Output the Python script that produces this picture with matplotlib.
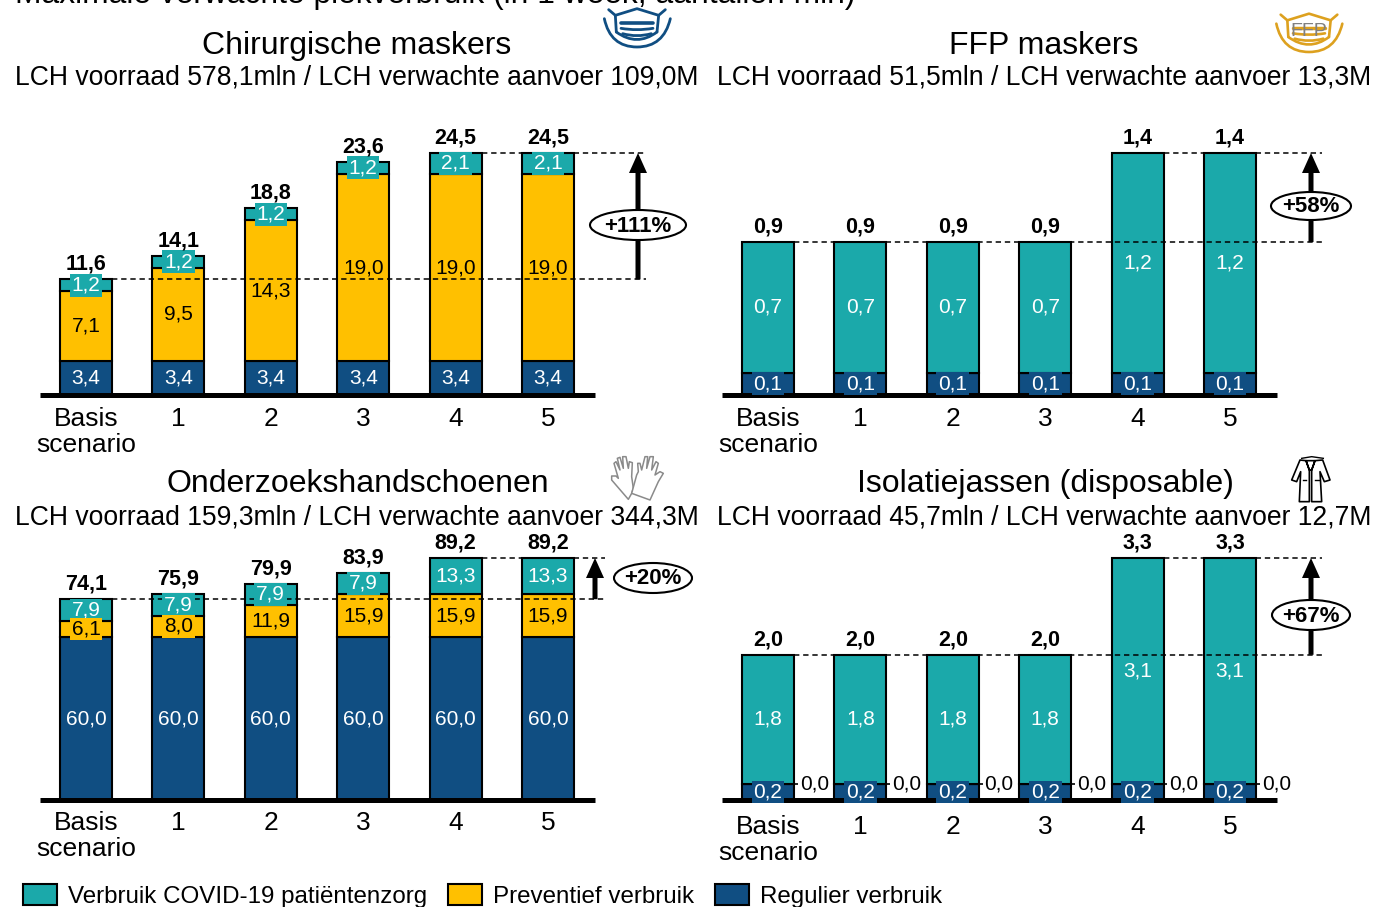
import numpy as np
import matplotlib
matplotlib.use('Agg')
import matplotlib.pyplot as plt
from matplotlib.patches import Ellipse, Patch, Polygon
from matplotlib.path import Path
from matplotlib.patches import PathPatch

plt.rcParams['font.family'] = ['Liberation Sans', 'DejaVu Sans']

W, H = 1375, 907
PX = 72 / 100  # points per pixel

categories = ['Basis\nscenario', '1', '2', '3', '4', '5']
series_names = ['Verbruik COVID-19 patiëntenzorg', 'Preventief verbruik', 'Regulier verbruik']
TEAL, YELLOW, NAVY = '#1BA9AA', '#FFC000', '#104E82'

chir_reg = [3.4, 3.4, 3.4, 3.4, 3.4, 3.4]
chir_prev = [7.1, 9.5, 14.3, 19.0, 19.0, 19.0]
chir_cov = [1.2, 1.2, 1.2, 1.2, 2.1, 2.1]
chir_total = [11.6, 14.1, 18.8, 23.6, 24.5, 24.5]

ffp_reg = [0.13, 0.13, 0.13, 0.13, 0.13, 0.13]
ffp_prev = [0.0, 0.0, 0.0, 0.0, 0.0, 0.0]
ffp_cov = [0.755, 0.755, 0.755, 0.755, 1.27, 1.27]
ffp_reg_txt = ['0,1'] * 6
ffp_cov_txt = ['0,7', '0,7', '0,7', '0,7', '1,2', '1,2']
ffp_total = [0.9, 0.9, 0.9, 0.9, 1.4, 1.4]

glove_reg = [60.0, 60.0, 60.0, 60.0, 60.0, 60.0]
glove_prev = [6.1, 8.0, 11.9, 15.9, 15.9, 15.9]
glove_cov = [7.9, 7.9, 7.9, 7.9, 13.3, 13.3]
glove_total = [74.1, 75.9, 79.9, 83.9, 89.2, 89.2]

gown_reg = [0.22, 0.22, 0.22, 0.22, 0.22, 0.22]
gown_prev = [0.0, 0.0, 0.0, 0.0, 0.0, 0.0]
gown_cov = [1.76, 1.76, 1.76, 1.76, 3.08, 3.08]
gown_reg_txt = ['0,2'] * 6
gown_cov_txt = ['1,8', '1,8', '1,8', '1,8', '3,1', '3,1']
gown_total = [2.0, 2.0, 2.0, 2.0, 3.3, 3.3]


def nl(v):
    return f'{v:.1f}'.replace('.', ',')


fig = plt.figure(figsize=(W / 100, H / 100), dpi=100, facecolor='white')

# overlay in pixel units for headings and pictograms
ov = fig.add_axes([0, 0, 1, 1], zorder=5)
ov.set_xlim(0, W)
ov.set_ylim(H, 0)
ov.axis('off')
ov.patch.set_alpha(0)

STEP = 92.4
BW = 52 / STEP


def panel(x0, base_px, reg, prev, cov, total, reg_txt=None, cov_txt=None,
          arrow_x=None, pct='', ell=(0, 0, 0, 0), dash_end=0, tick_pad=0, zero_labels=False):
    """x0: pixel x of first bar centre; base_px: pixel y of baseline."""
    reg, prev, cov = map(np.array, (reg, prev, cov))
    tops = reg + prev + cov
    peak = tops.max()
    unit_px = 242 / peak
    left, right, h_px = x0 - 46, x0 + 509, 300
    ax = fig.add_axes([left / W, 1 - base_px / H, (right - left) / W, h_px / H], zorder=2)
    ax.patch.set_alpha(0)
    ax.set_xlim((left - x0) / STEP, (right - x0) / STEP)
    ax.set_ylim(0, peak * h_px / 242)
    x = np.arange(6)
    kw = dict(width=BW, edgecolor='black', linewidth=1.5)
    ax.bar(x, reg, color=NAVY, zorder=2, **kw)
    ax.bar(x, prev, bottom=reg, color=YELLOW, zorder=2, **kw)
    ax.bar(x, cov, bottom=reg + prev, color=TEAL, zorder=2, **kw)

    for s in ('top', 'left', 'right'):
        ax.spines[s].set_visible(False)
    ax.spines['bottom'].set_linewidth(5 * PX)
    ax.spines['bottom'].set_capstyle('butt')
    ax.spines['bottom'].set_zorder(3)
    ax.set_yticks([])
    ax.set_xticks(x, categories, fontsize=19, linespacing=1.1)
    ax.tick_params(axis='x', length=0, pad=tick_pad)

    def seg(xv, yv, s, val, fc, tc):
        # only a label that does not fit its segment gets a patch in the segment colour
        bb = dict(boxstyle='square,pad=0.09', fc=fc, ec='none') if val * unit_px < 22.5 else None
        ax.text(xv, yv, s, color=tc, ha='center', va='center', fontsize=15, bbox=bb, zorder=5)

    for i in x:
        ax.annotate(str(total[i]).replace('.', ','), (i, tops[i]), xytext=(0, 15 * PX),
                    textcoords='offset points', ha='center', va='center',
                    fontsize=15.5, fontweight='bold', zorder=6)
        rt = reg_txt[i] if reg_txt else nl(reg[i])
        ct = cov_txt[i] if cov_txt else nl(cov[i])
        seg(i, reg[i] / 2, rt, reg[i], NAVY, 'white')
        seg(i, reg[i] + prev[i] + cov[i] / 2, ct, cov[i], TEAL, 'white')
        if prev[i] > 0:
            seg(i, reg[i] + prev[i] / 2, nl(prev[i]), prev[i], YELLOW, 'black')
        elif zero_labels:
            ax.plot([i + BW / 2, i + 0.33], [reg[i], reg[i]], color='black', lw=1.2, zorder=3,
                    clip_on=False)
            ax.annotate('0,0', (i + 0.5, reg[i]), ha='center', va='center', fontsize=15,
                        bbox=dict(boxstyle='square,pad=0.09', fc='white', ec='none'),
                        zorder=4, annotation_clip=False)

    # reference lines
    xend = (dash_end - x0) / STEP
    first_top = int(np.argmax(tops))
    dash = dict(color='black', lw=1.1, ls=(0, (3.5, 2.5)), zorder=4, clip_on=False)
    ax.plot([BW / 2, xend], [tops[0], tops[0]], **dash)
    ax.plot([first_top + BW / 2, xend], [peak, peak], **dash)

    ax_x = (arrow_x - x0) / STEP
    ax.annotate('', xy=(ax_x, peak), xytext=(ax_x, tops[0]), annotation_clip=False,
                arrowprops=dict(facecolor='black', edgecolor='none', width=5 * PX,
                                headwidth=18 * PX, headlength=20 * PX, shrink=0), zorder=4)
    cx, cy, w, h = ell
    ov.add_patch(Ellipse((cx, cy), w, h, fc='white', ec='black', lw=1.5))
    ov.text(cx, cy + 1, pct, ha='center', va='center', fontsize=16, fontweight='bold')
    return ax


panel(86, 395, chir_reg, chir_prev, chir_cov, chir_total, arrow_x=638, pct='+111%',
      ell=(638, 225, 96, 30), dash_end=646, tick_pad=9)
panel(768, 395, ffp_reg, ffp_prev, ffp_cov, ffp_total, reg_txt=ffp_reg_txt, cov_txt=ffp_cov_txt,
      arrow_x=1311, pct='+58%', ell=(1311, 206, 80, 28), dash_end=1322, tick_pad=9)
panel(86, 800, glove_reg, glove_prev, glove_cov, glove_total, arrow_x=595, pct='+20%',
      ell=(653, 578, 78, 30), dash_end=605, tick_pad=8)
panel(768, 800, gown_reg, gown_prev, gown_cov, gown_total, reg_txt=gown_reg_txt, cov_txt=gown_cov_txt,
      arrow_x=1311, pct='+67%', ell=(1311, 615, 78, 30), dash_end=1322, tick_pad=11, zero_labels=True)

# headings
ov.text(15, -5, 'Maximale verwachte piekverbruik (in 1 week, aantallen mln)', fontsize=22.9,
        ha='left', va='center')
heads = [(357, 46, 'Chirurgische maskers', 23), (1044, 46, 'FFP maskers', 23),
         (358, 484, 'Onderzoekshandschoenen', 23), (1045, 484, 'Isolatiejassen (disposable)', 23),
         (357, 77, 'LCH voorraad 578,1mln / LCH verwachte aanvoer 109,0M', 19.1),
         (1044, 77, 'LCH voorraad 51,5mln / LCH verwachte aanvoer 13,3M', 19.1),
         (357, 517, 'LCH voorraad 159,3mln / LCH verwachte aanvoer 344,3M', 19.1),
         (1044, 517, 'LCH voorraad 45,7mln / LCH verwachte aanvoer 12,7M', 19.1)]
for hx, hy, t, fs in heads:
    ov.text(hx, hy, t, fontsize=fs, ha='center', va='center')


# pictograms (drawn in crop coordinates, one third of a pixel per unit)
def curve(pts, c, lw):
    codes = [Path.MOVETO] + [Path.CURVE3] * (len(pts) - 1)
    ov.add_patch(PathPatch(Path(pts, codes), fc='none', ec=c, lw=lw, capstyle='round'))


def mask(cx, cy, c, lw):
    f = lambda a: [(cx + (p - 140) / 3, cy + (q - 80) / 3) for p, q in a]
    line = lambda a, w=lw: ov.plot(*zip(*f(a)), color=c, lw=w, solid_capstyle='round')
    line([(55, 28), (75, 45), (140, 25), (205, 45), (225, 28)])
    line([(75, 45), (78, 95)])
    line([(205, 45), (200, 95)])
    curve(f([(78, 95), (140, 140), (200, 95)]), c, lw)
    curve(f([(42, 55), (60, 140), (140, 140), (220, 140), (240, 55)]), c, lw)
    line([(92, 68), (188, 68)], lw * 1.3)
    curve(f([(92, 84), (140, 92), (188, 84)]), c, lw)
    curve(f([(97, 100), (140, 112), (183, 100)]), c, lw)


mask(637, 27, NAVY, 2.0)
ov.text(1309, 31, 'FFP', color='#808080', fontsize=14, ha='center', va='center')
mask(1309, 32, '#DDA11F', 1.9)

glove_l = [(85, 148), (35, 90), (35, 78), (48, 78), (55, 85), (42, 40), (48, 35), (60, 60), (52, 25),
           (60, 22), (70, 55), (68, 20), (78, 20), (85, 55), (88, 35), (97, 38), (95, 80), (100, 115),
           (95, 130)]
glove_r = [(95, 130), (110, 75), (115, 65), (113, 40), (120, 40), (125, 60), (135, 20), (143, 20),
           (140, 55), (150, 20), (160, 20), (155, 60), (168, 35), (175, 40), (165, 75), (180, 65),
           (190, 70), (175, 95), (150, 150)]
for g in (glove_l, glove_r):
    ov.add_patch(Polygon([(600 + p / 3, 450 + q / 3) for p, q in g], closed=True, fc='white',
                         ec='#8A8A8A', lw=1.1, joinstyle='round'))

C = lambda a: [(1280 + p / 3, 450 + q / 3) for p, q in a]
ov.add_patch(Polygon(C([(60, 30), (35, 90), (50, 95), (62, 65), (58, 155), (88, 155), (88, 60),
                        (78, 32), (105, 32), (95, 60), (95, 155), (125, 155), (120, 65), (133, 95),
                        (150, 90), (128, 30), (105, 32), (95, 60), (88, 60), (78, 32)]),
                     closed=True, fc='white', ec='black', lw=1.2, joinstyle='round'))
for seg_pts in ([(65, 25), (95, 20), (130, 25)], [(68, 90), (78, 90)], [(105, 90), (118, 90)]):
    ov.plot(*zip(*C(seg_pts)), color='black', lw=1.0)

# legend, clipped at the lower edge as in the reference
handles = [Patch(fc=c, ec='black', lw=1.5) for c in (TEAL, YELLOW, NAVY)]
fig.legend(handles, series_names, ncol=3, frameon=False, fontsize=17.35,
           loc='lower left', bbox_to_anchor=(23 / W, -0.001), borderpad=0, borderaxespad=0,
           handlelength=1.4, handleheight=0.95, handletextpad=0.46, columnspacing=0.87)

fig.savefig('out.png', dpi=100)
